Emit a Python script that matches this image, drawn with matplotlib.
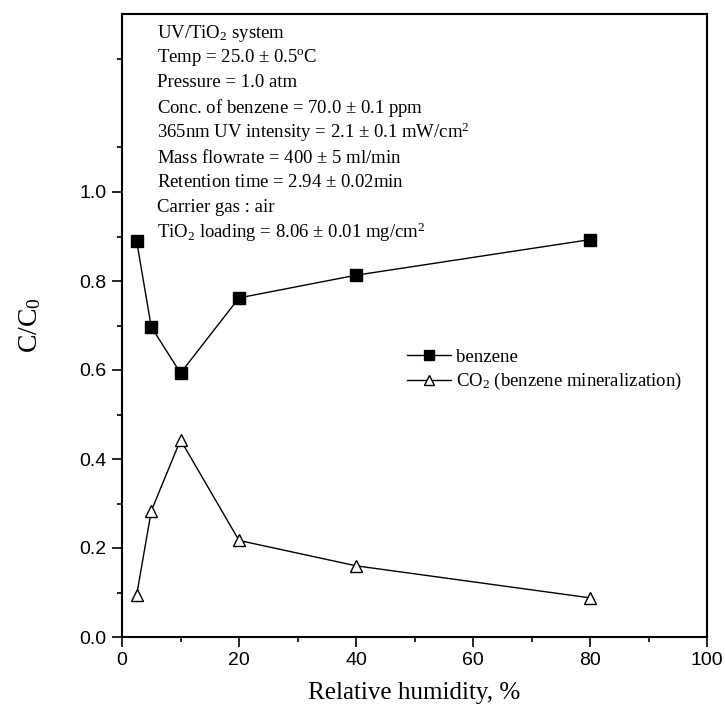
import matplotlib
matplotlib.use("Agg")
import matplotlib.pyplot as plt
from matplotlib.ticker import MultipleLocator, FixedLocator, FormatStrFormatter

humidity = [2.5, 5, 10, 20, 40, 80]
benzene = [0.89, 0.697, 0.593, 0.762, 0.813, 0.893]
co2 = [0.094, 0.283, 0.443, 0.217, 0.160, 0.088]

conditions = [
    r"UV/TiO$_2$ system",
    r"Temp = 25.0 $\pm$ 0.5$^\mathrm{o}$C",
    "Pressure = 1.0 atm",
    r"Conc. of benzene = 70.0 $\pm$ 0.1 ppm",
    r"365nm UV intensity = 2.1 $\pm$ 0.1 mW/cm$^2$",
    r"Mass flowrate = 400 $\pm$ 5 ml/min",
    r"Retention time = 2.94 $\pm$ 0.02min",
    "Carrier gas : air",
    r"TiO$_2$ loading = 8.06 $\pm$ 0.01 mg/cm$^2$",
]

plt.rcParams['mathtext.fontset'] = 'custom'
plt.rcParams['mathtext.rm'] = 'Liberation Serif'
plt.rcParams['mathtext.it'] = 'Liberation Serif:italic'

fig = plt.figure(figsize=(7.25, 7.11), dpi=100)
ax = fig.add_axes([122/725, 1-637/711, (707-122)/725, (637-14)/711])

ax.plot(humidity, benzene, color='black', lw=1, marker='s', ms=8,
        mfc='black', mec='black', label='benzene')
ax.plot(humidity, co2, color='black', lw=1, marker='^', ms=9,
        mfc='white', mec='black', label=r'CO$_2$ (benzene mineralization)')

ax.set_xlim(0, 100)
ax.set_ylim(0, 1.4)
ax.xaxis.set_major_locator(MultipleLocator(20))
ax.xaxis.set_minor_locator(MultipleLocator(10))
ax.yaxis.set_major_locator(FixedLocator([0, 0.2, 0.4, 0.6, 0.8, 1.0]))
ax.yaxis.set_minor_locator(FixedLocator([0.1, 0.3, 0.5, 0.7, 0.9, 1.1, 1.3]))
ax.yaxis.set_major_formatter(FormatStrFormatter('%.1f'))
ax.tick_params(which='major', length=7, width=1.2, labelsize=14, pad=4, direction='out')
ax.tick_params(which='minor', length=3.8, width=1.2, direction='out')
for lab in ax.get_xticklabels() + ax.get_yticklabels():
    lab.set_family('Liberation Sans')
for s in ax.spines.values():
    s.set_linewidth(1.5)

ax.set_xlabel('Relative humidity, %', family='Liberation Serif', fontsize=18, va='top')
ax.xaxis.set_label_coords(0.5, -0.072)
ax.set_ylabel(r'C/C$_0$', family='Liberation Serif', fontsize=20)
ax.yaxis.set_label_coords(-0.135, 0.5)

y0 = 0.9695
for i, line in enumerate(conditions):
    ax.text(0.06, y0 - i*0.04, line, transform=ax.transAxes, family='Liberation Serif',
            fontsize=13.5, va='center', ha='left')

leg = ax.legend(loc='center left', bbox_to_anchor=(0.472, 0.428), frameon=False,
                prop={'family': 'Liberation Serif', 'size': 13.5},
                handlelength=2.3, labelspacing=0.3, handletextpad=0.3, borderpad=0)
for h in leg.legend_handles:
    h.set_markersize(7)

fig.savefig('out.png', dpi=100)
